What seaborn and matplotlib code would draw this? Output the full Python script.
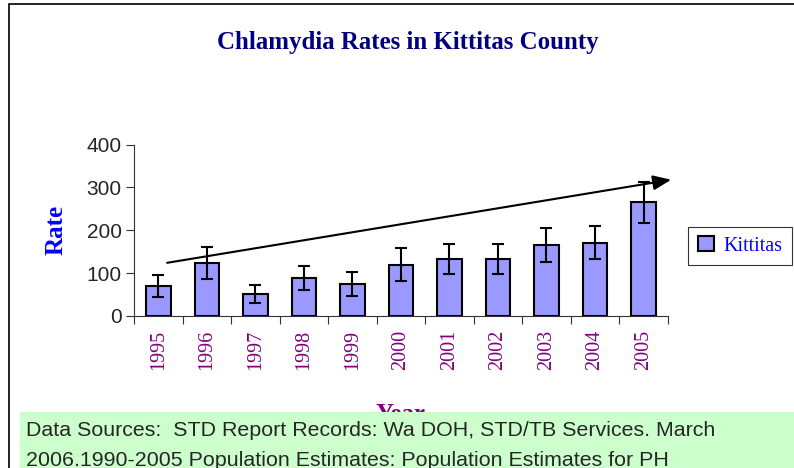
import numpy as np
import pandas as pd
import seaborn as sns
import matplotlib.pyplot as plt
from matplotlib.patches import Rectangle, Patch

# data
years = ["1995", "1996", "1997", "1998", "1999", "2000",
         "2001", "2002", "2003", "2004", "2005"]
rates = [70, 124, 51, 88, 74, 120, 134, 134, 166, 171, 265]
errs = [26, 37, 22, 28, 28, 38, 35, 35, 40, 39, 48]
trend_start = (0.18, 124)
trend_end = (10.57, 318)

df = pd.DataFrame({"Year": years, "Rate": rates})

sns.set_style("white")
plt.rcParams["font.family"] = ["Liberation Serif", "DejaVu Serif"]

fig = plt.figure(figsize=(7.94, 4.68), dpi=100)
ax = fig.add_axes([0.169, 0.325, 0.672, 0.366])

sns.barplot(data=df, x="Year", y="Rate", color="#9999FF", width=0.5,
            edgecolor="black", linewidth=1.5, saturation=1, errorbar=None, ax=ax)
ax.errorbar(np.arange(len(years)), rates, yerr=errs, fmt="none",
            ecolor="black", elinewidth=1.5, capsize=4.5, capthick=1.5)

ax.set_ylim(0, 400)
ax.set_xlim(-0.5, len(years) - 0.5)
ax.set_yticks([0, 100, 200, 300, 400])
ax.tick_params(axis="y", labelsize=15, length=6, width=0.8, color="#333333",
               labelfontfamily="Liberation Sans", pad=3, left=True)
ax.set_xticks(np.arange(len(years)))
ax.set_xticklabels(years, rotation=90, color="#800080", fontsize=14.5)
ax.set_xticks(np.arange(-0.5, len(years)), minor=True)
ax.tick_params(axis="x", which="major", length=0, pad=10)
ax.tick_params(axis="x", which="minor", length=6, width=0.8, color="#333333", bottom=True)
for s in ["top", "right"]:
    ax.spines[s].set_visible(False)
for s in ["left", "bottom"]:
    ax.spines[s].set_color("#333333")
    ax.spines[s].set_linewidth(0.8)

ax.set_ylabel("Rate", fontsize=18, fontweight="bold", color="#0000FF", labelpad=14)
ax.set_xlabel("Year", fontsize=18, fontweight="bold", color="#800080", labelpad=24)

# trend arrow
ax.annotate("", xy=trend_end, xytext=trend_start, annotation_clip=False,
            arrowprops=dict(arrowstyle="-|>,head_length=1.1,head_width=0.45",
                            color="black", lw=1.5, shrinkA=0, shrinkB=0))

fig.text(0.514, 1 - 43 / 468, "Chlamydia Rates in Kittitas County", ha="center", va="center",
         fontsize=17.9, fontweight="bold", color="#000080")

leg = ax.legend(handles=[Patch(facecolor="#9999FF", edgecolor="black", linewidth=1.5,
                               label="Kittitas")],
                loc="center left", bbox_to_anchor=(1.02, 0.41), frameon=True,
                fancybox=False, fontsize=14.5, handlelength=0.8, handleheight=0.8,
                handletextpad=0.5, borderpad=0.45)
leg.get_frame().set_edgecolor("black")
leg.get_frame().set_linewidth(0.8)
for t in leg.get_texts():
    t.set_color("#0000FF")

# outer chart border
fig.patches.append(Rectangle((9 / 794, -0.05), 1.1, 1 - 4 / 468 + 0.05,
                             transform=fig.transFigure, fill=False,
                             edgecolor="black", linewidth=1.2, zorder=0))

# green sources box
fig.patches.append(Rectangle((20 / 794, 0), 1.0, 56 / 468, transform=fig.transFigure,
                             facecolor="#CCFFCC", edgecolor="none", zorder=5))
fig.text(26 / 794, 1 - 430 / 468, "Data Sources:  STD Report Records: Wa DOH, STD/TB Services. March",
         fontsize=15.4, family="Liberation Sans", va="center", zorder=6)
fig.text(26 / 794, 1 - 460 / 468, "2006.1990-2005 Population Estimates: Population Estimates for PH",
         fontsize=15.4, family="Liberation Sans", va="center", zorder=6)

fig.savefig("out.png", dpi=100)
